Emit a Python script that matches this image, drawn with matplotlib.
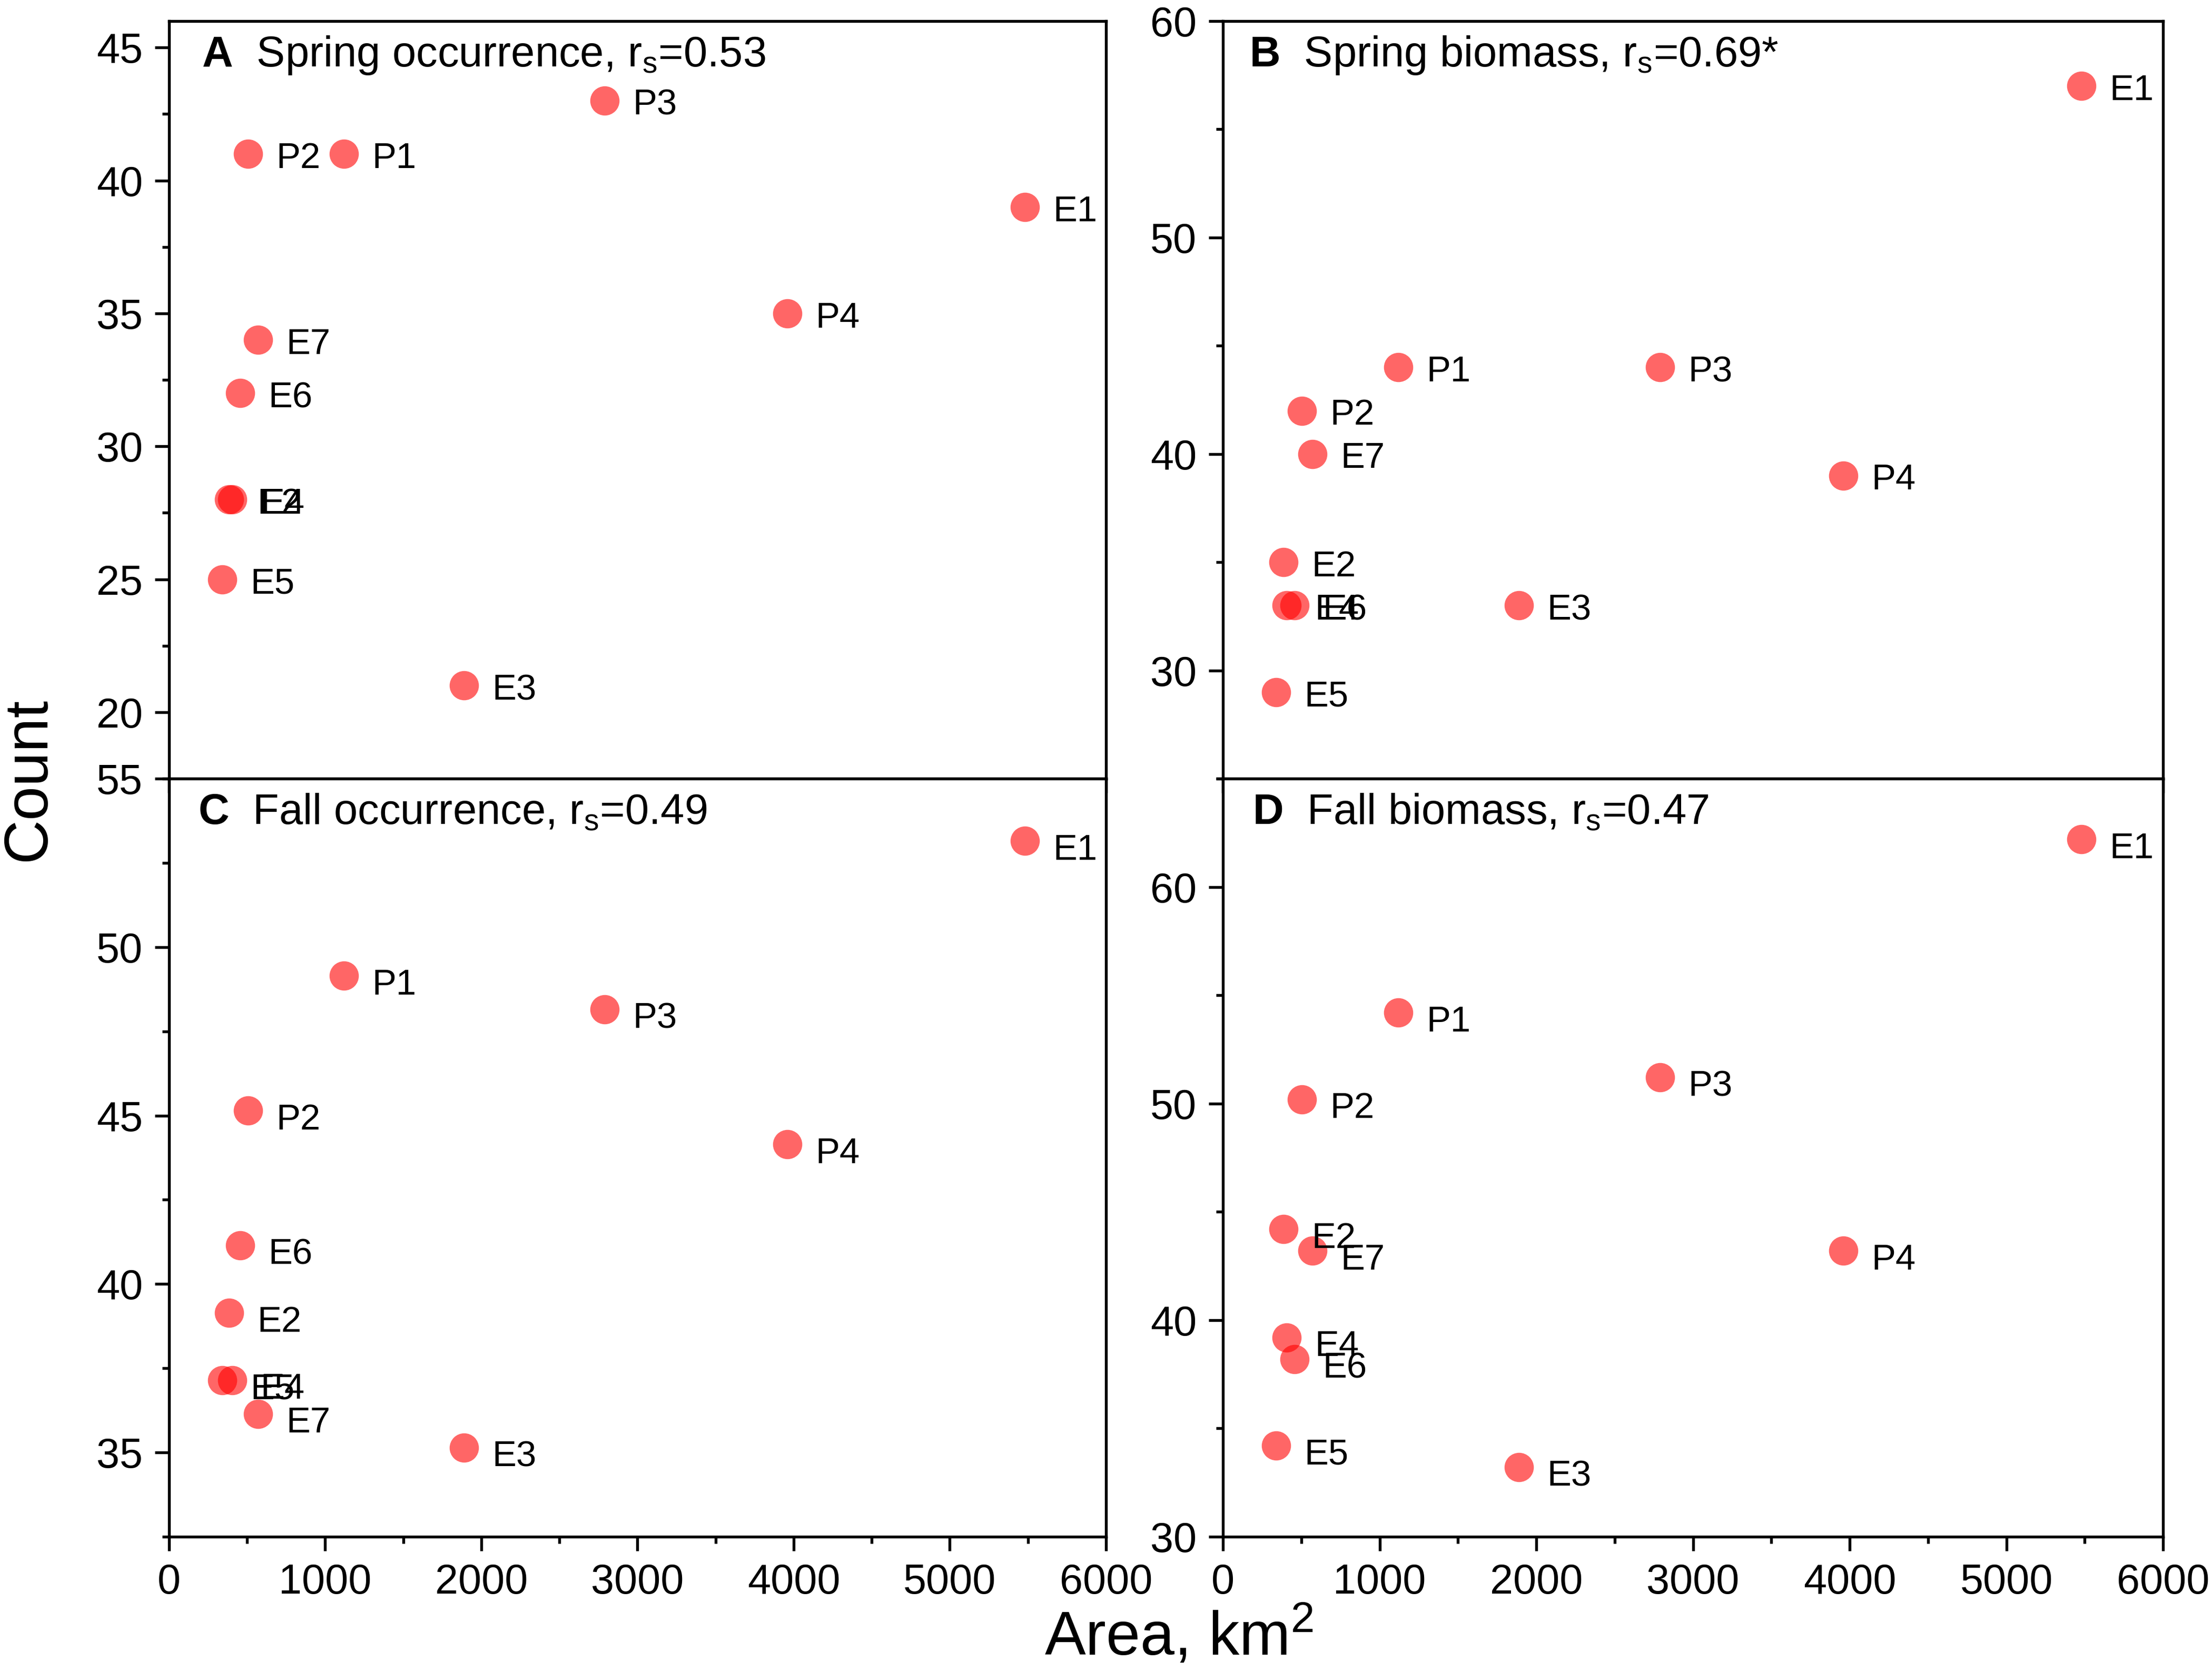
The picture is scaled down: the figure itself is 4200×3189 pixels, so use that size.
import matplotlib
matplotlib.use('Agg')
import matplotlib.pyplot as plt
from matplotlib.ticker import MultipleLocator

plt.rcParams['font.family'] = ['Liberation Sans', 'DejaVu Sans']
plt.rcParams['mathtext.fontset'] = 'custom'
plt.rcParams['mathtext.rm'] = 'Liberation Sans'
plt.rcParams['mathtext.it'] = 'Liberation Sans:italic'
plt.rcParams['mathtext.bf'] = 'Liberation Sans:bold'

# site names and catchment area (km2)
sites = ['E1', 'E2', 'E3', 'E4', 'E5', 'E6', 'E7', 'P1', 'P2', 'P3', 'P4']
area = [5480, 385, 1890, 405, 340, 455, 570, 1120, 505, 2790, 3960]

# counts per panel, same order as sites
spring_occ = [39, 28, 21, 28, 25, 32, 34, 41, 41, 43, 35]
spring_bio = [57, 35, 33, 33, 29, 33, 40, 44, 42, 44, 39]
fall_occ = [53.15, 39.15, 35.15, 37.15, 37.15, 41.15, 36.15, 49.15, 45.15, 48.15, 44.15]
fall_bio = [62.2, 44.2, 33.2, 39.2, 34.2, 38.2, 43.2, 54.2, 50.2, 51.2, 43.2]

panel_letters = ['A', 'B', 'C', 'D']
panel_titles = ['Spring occurrence', 'Spring biomass', 'Fall occurrence', 'Fall biomass']
panel_rs = ['0.53', '0.69*', '0.49', '0.47']

fig = plt.figure(figsize=(14, 10.63), dpi=300)

# axes boxes in figure fractions
left_l, left_r = 0.0764, 0.5529
w_l, w_r = 0.4236, 0.4250
bot_top, bot_low = 0.5365, 0.0853
h_top, h_low = 0.4510, 0.4512

ax_a = fig.add_axes([left_l, bot_top, w_l, h_top])
ax_b = fig.add_axes([left_r, bot_top, w_r, h_top])
ax_c = fig.add_axes([left_l, bot_low, w_l, h_low])
ax_d = fig.add_axes([left_r, bot_low, w_r, h_low])
axes = [ax_a, ax_b, ax_c, ax_d]
values = [spring_occ, spring_bio, fall_occ, fall_bio]
ylims = [(17.5, 46), (25, 60), (32.5, 55), (30, 65)]
ymajor = [5, 10, 5, 10]
title_x = [0.035, 0.028, 0.031, 0.031]
label_dy = [-6.4, -6.4, -8.6, -8.5]

for i, ax in enumerate(axes):
    vals = values[i]
    ax.scatter(area, vals, s=178, color='red', alpha=0.6, linewidths=0, zorder=3)
    for name, xv, yv in zip(sites, area, vals):
        ax.annotate(name, (xv, yv), xytext=(12.8, label_dy[i]), textcoords='offset points',
                    ha='left', va='baseline', fontsize=16.5, zorder=4)

    ax.set_xlim(0, 6000)
    ax.set_ylim(*ylims[i])
    ax.xaxis.set_major_locator(MultipleLocator(1000))
    ax.xaxis.set_minor_locator(MultipleLocator(500))
    ax.yaxis.set_major_locator(MultipleLocator(ymajor[i]))
    ax.yaxis.set_minor_locator(MultipleLocator(ymajor[i] / 2))
    ax.tick_params(which='both', direction='out', width=1.3, top=False, right=False,
                   labelsize=19)
    ax.tick_params(which='major', length=6.5, pad=5.5)
    ax.tick_params(which='minor', length=3.2)
    for sp in ax.spines.values():
        sp.set_linewidth(1.3)
    if i < 2:
        ax.tick_params(axis='x', which='both', labelbottom=False)

    ax.text(title_x[i], 0.94,
            r'$\mathbf{' + panel_letters[i] + r'}$  ' + panel_titles[i]
            + r', $\mathrm{r_s}$=' + panel_rs[i],
            transform=ax.transAxes, ha='left', va='baseline', fontsize=19.5)

fig.text(0.013, 0.536, 'Count', rotation=90, ha='center', va='center', fontsize=28)
fig.text(0.533, 0.026, r'Area, km$^2$', ha='center', va='center', fontsize=28)

fig.savefig('out.png', dpi=300)
